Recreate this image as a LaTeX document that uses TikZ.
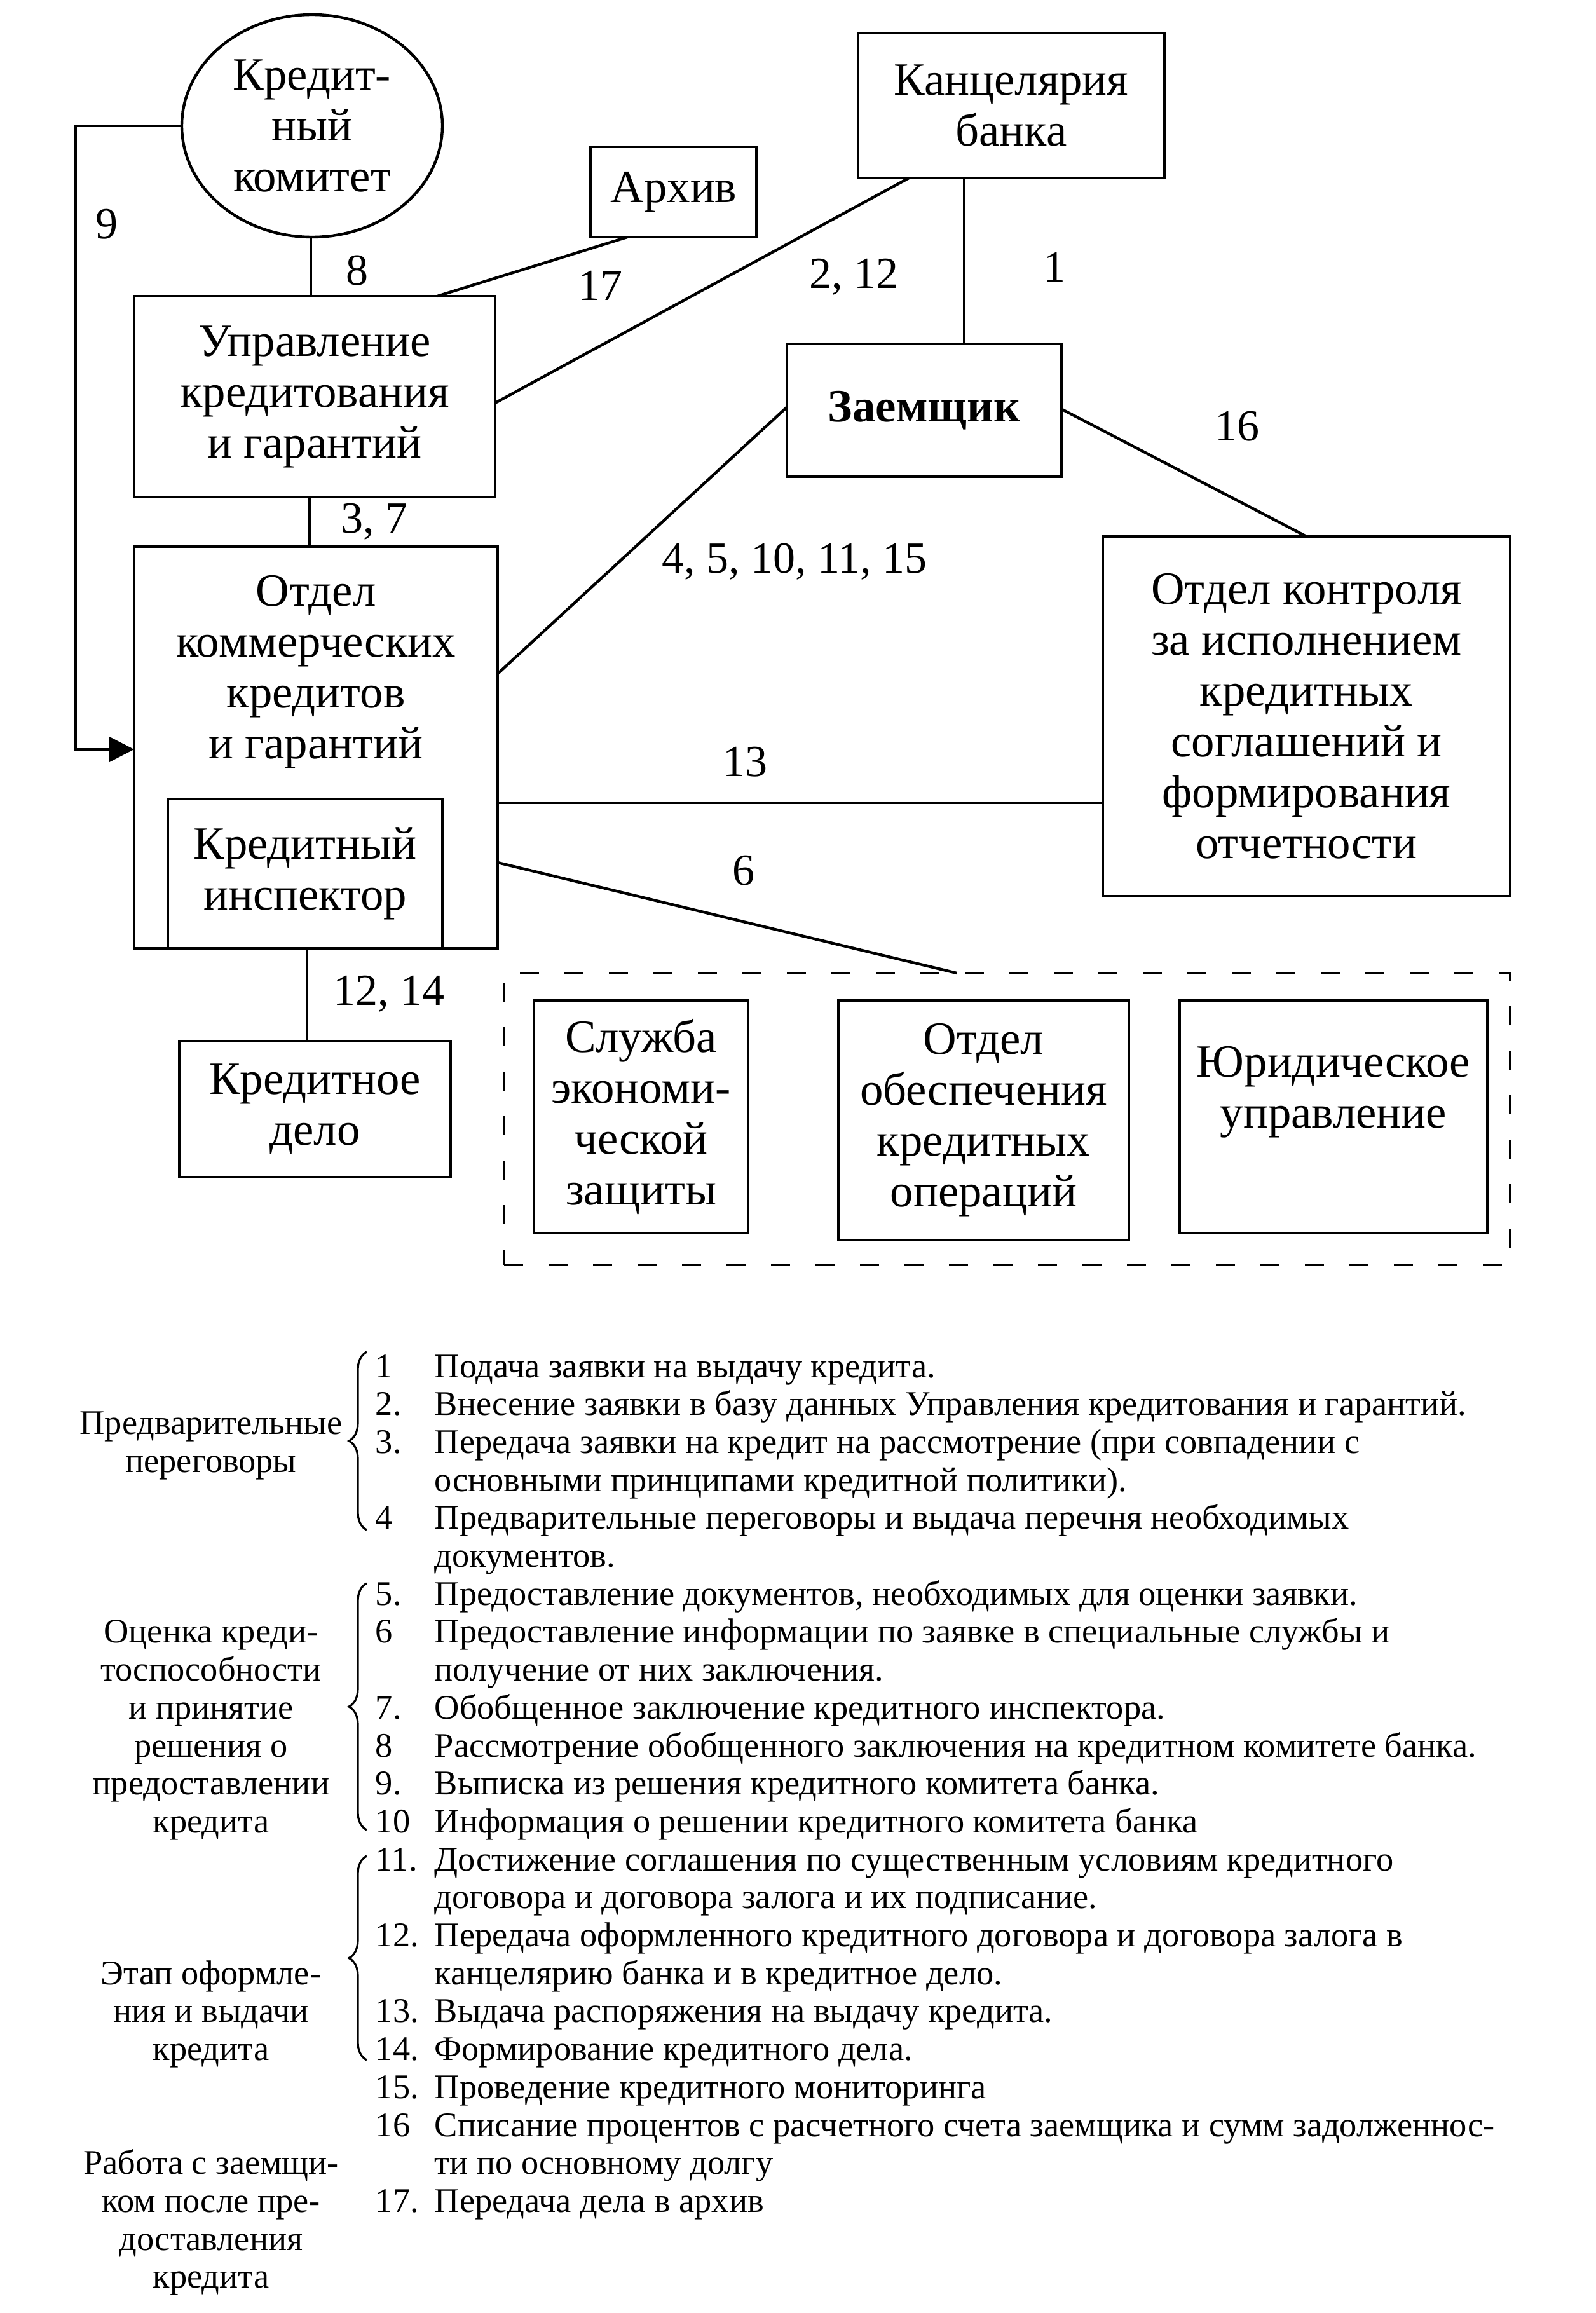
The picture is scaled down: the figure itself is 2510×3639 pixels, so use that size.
\documentclass[tikz,border=0pt]{standalone}
\usepackage{fontspec}
\setmainfont{Liberation Serif}
\usetikzlibrary{shapes.geometric,arrows.meta,calc,decorations.pathreplacing}
\newcommand{\dfont}{\fontsize{18.2}{20}\selectfont}
\newcommand{\nfont}{\fontsize{17.5}{20}\selectfont}
\newcommand{\lfont}{\fontsize{13.6}{14.9}\selectfont}
\begin{document}
\begin{tikzpicture}[x=0.25pt,y=-0.25pt,
  box/.style={draw,line width=1.1pt,inner sep=0pt,outer sep=0pt,align=center,font=\dfont},
  txt/.style={inner sep=0pt,outer sep=0pt,align=center,font=\dfont},
  num/.style={inner sep=0pt,font=\nfont},
  conn/.style={line width=1.1pt},
  leg/.style={inner sep=0pt,font=\lfont,anchor=base west},
  grp/.style={inner sep=0pt,font=\lfont,anchor=base},
  lbrace/.style={line width=0.8pt,decorate,decoration={brace,amplitude=7pt}}]
\useasboundingbox (0,0) rectangle (2510,3639);
\fill[white] (0,0) rectangle (2510,3639);

% nodes
\node[box,ellipse,minimum width=102.5pt,minimum height=87.5pt] (kk) at (491,198) {};
\node[txt] (kkt) at (kk.center) {Кредит-\\ный\\комитет};
\node[box,minimum width=65.25pt,minimum height=35.5pt] (arch) at (1060,302) {Архив};
\node[box,minimum width=142pt,minimum height=79pt] (upr) at (495,624) {Управление\\кредитования\\и гарантий};
\node[box,minimum width=120.5pt,minimum height=57pt] (kanc) at (1591,166) {Канцелярия\\банка};
\node[box,minimum width=108pt,minimum height=52.25pt,font=\dfont\bfseries] (zaem) at (1454,645.5) {Заемщик};
\node[box,minimum width=143pt,minimum height=158pt] (okk) at (497,1176) {};
\node[txt] (okkt) at (497,1057) {Отдел\\коммерческих\\кредитов\\и гарантий};
\node[box,minimum width=108pt,minimum height=58.75pt] (insp) at (480,1374.5) {Кредитный\\инспектор};
\node[box,minimum width=160.25pt,minimum height=141.5pt] (kontr) at (2055.5,1127) {Отдел контроля\\за исполнением\\кредитных\\соглашений и\\формирования\\отчетности};
\node[box,minimum width=106.75pt,minimum height=53.5pt] (delo) at (495.5,1745) {Кредитное\\дело};
\node[draw,line width=1.1pt,dash pattern=on 7.5pt off 10pt,inner sep=0pt,outer sep=0pt,minimum width=395.75pt,minimum height=114.75pt] (grpbox) at (1584.5,1760.5) {};
\node[box,minimum width=84.25pt,minimum height=91.5pt] (slu) at (1008.5,1757) {Служба\\экономи-\\ческой\\защиты};
\node[box,minimum width=114.25pt,minimum height=94.25pt] (obesp) at (1547.5,1762.5) {Отдел\\обеспечения\\кредитных\\операций};
\node[box,minimum width=121pt,minimum height=91.5pt] (jur) at (2098,1757) {};
\node[txt] (jurt) at (2098,1718) {Юридическое\\управление};

% connector end points
\coordinate (c9a) at (119,198);
\coordinate (c9b) at (119,1179);
\coordinate (c8a) at ($(kk.south)+(-2,0)$);
\coordinate (c8b) at (c8a |- upr.north);
\coordinate (c1a) at ($(kanc.south)+(-74,0)$);
\coordinate (c1b) at (c1a |- zaem.north);
\coordinate (c13a) at ($(okk.east)+(0,87)$);
\coordinate (c13b) at (c13a -| kontr.west);
\coordinate (c37a) at ($(upr.south)+(-8,0)$);
\coordinate (c37b) at (c37a |- okk.north);
\coordinate (c12a) at ($(okk.south)+(-14,0)$);
\coordinate (c12b) at (c12a |- delo.north);

% connectors
\draw[conn,-{Triangle[length=10pt,width=10pt]}] (kk.west) -- (c9a) -- (c9b) -- (c9b -| okk.west);
\draw[conn] (c8a) -- (c8b);
\draw[conn] ($(arch.south)+(-73,0)$) -- ($(upr.north)+(193,0)$);
\draw[conn] ($(kanc.south)+(-161,0)$) -- ($(upr.east)+(0,10)$);
\draw[conn] (c1a) -- (c1b);
\draw[conn] ($(zaem.east)+(0,-2)$) -- (kontr.north);
\draw[conn] ($(zaem.west)+(0,-5)$) -- ($(okk.east)+(0,-116)$);
\draw[conn] (c13a) -- (c13b);
\draw[conn] ($(okk.east)+(0,181)$) -- ($(grpbox.north)+(-79,0)$);
\draw[conn] (c37a) -- (c37b);
\draw[conn] (c12a) -- (c12b);

% connector labels
\node[num] (l9) at (168,353) {9};
\node[num] (l8) at (562,426) {8};
\node[num] (l17) at (944,449) {17};
\node[num] (l212) at (1343,436) {2, 12};
\node[num] (l1) at (1659,420) {1};
\node[num] (l16) at (1946,671) {16};
\node[num] (l37) at (589,821) {3, 7};
\node[num] (l45) at (1250,884) {4, 5, 10, 11, 15};
\node[num] (l13) at (1172,1199) {13};
\node[num] (l6) at (1170,1370) {6};
\node[num] (l1214) at (612,1564) {12, 14};

% legend
\foreach \k/\n/\t in {
 0/1/{Подача заявки на выдачу кредита.},
 1/2./{Внесение заявки в базу данных Управления кредитования и гарантий.},
 2/3./{Передача заявки на кредит на рассмотрение (при совпадении с},
 3//{основными принципами кредитной политики).},
 4/4/{Предварительные переговоры и выдача перечня необходимых},
 5//{документов.},
 6/5./{Предоставление документов, необходимых для оценки заявки.},
 7/6/{Предоставление информации по заявке в специальные службы и},
 8//{получение от них заключения.},
 9/7./{Обобщенное заключение кредитного инспектора.},
 10/8/{Рассмотрение обобщенного заключения на кредитном комитете банка.},
 11/9./{Выписка из решения кредитного комитета банка.},
 12/10/{Информация о решении кредитного комитета банка},
 13/11./{Достижение соглашения по существенным условиям кредитного},
 14//{договора и договора залога и их подписание.},
 15/12./{Передача оформленного кредитного договора и договора залога в},
 16//{канцелярию банка и в кредитное дело.},
 17/13./{Выдача распоряжения на выдачу кредита.},
 18/14./{Формирование кредитного дела.},
 19/15./{Проведение кредитного мониторинга},
 20/16/{Списание процентов с расчетного счета заемщика и сумм задолженнос-},
 21//{ти по основному долгу},
 22/17./{Передача дела в архив}}{
  \node[leg] (n\k) at (590,{2167+59.7*\k}) {\n};
  \node[leg] (t\k) at (683,{2167+59.7*\k}) {\t};
}
\foreach \k/\t in {
 1.5/{Предварительные}, 2.5/{переговоры},
 7/{Оценка креди-}, 8/{тоспособности}, 9/{и принятие}, 10/{решения о}, 11/{предоставлении}, 12/{кредита},
 16/{Этап оформле-}, 17/{ния и выдачи}, 18/{кредита},
 21/{Работа с заемщи-}, 22/{ком после пре-}, 23/{доставления}, 24/{кредита}}{
  \node[grp] (g\k) at (332,{2167+59.7*\k}) {\t};
}
\coordinate (b1a) at (577,2407); \coordinate (b1b) at (577,2127);
\coordinate (b2a) at (577,2879); \coordinate (b2b) at (577,2491);
\coordinate (b3a) at (577,3241); \coordinate (b3b) at (577,2920);
\draw[lbrace] (b1a) -- (b1b);
\draw[lbrace] (b2a) -- (b2b);
\draw[lbrace] (b3a) -- (b3b);
\end{tikzpicture}
\end{document}
